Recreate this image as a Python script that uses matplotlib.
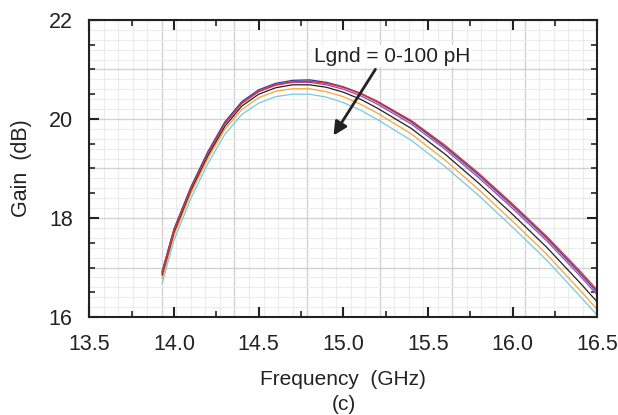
import matplotlib
matplotlib.use("Agg")
import matplotlib.pyplot as plt
from matplotlib.ticker import MultipleLocator

plt.rcParams['font.family'] = ['Liberation Sans', 'DejaVu Sans']

# frequency sweep (GHz) and gain (dB) for each ground inductance
freq = [13.93, 14.0, 14.1, 14.2, 14.3, 14.4, 14.5, 14.6, 14.7, 14.8, 14.9,
        15.0, 15.1, 15.2, 15.4, 15.6, 15.8, 16.0, 16.2, 16.4, 16.5]

gain_cyan = [16.68, 17.55, 18.40, 19.10, 19.69, 20.09, 20.32, 20.45, 20.50, 20.50, 20.44,
             20.33, 20.18, 19.99, 19.57, 19.04, 18.45, 17.81, 17.15, 16.41, 16.03]
gain_orange = [16.78, 17.65, 18.50, 19.20, 19.79, 20.19, 20.43, 20.56, 20.61, 20.61, 20.55,
               20.45, 20.30, 20.12, 19.70, 19.17, 18.57, 17.93, 17.27, 16.53, 16.15]
gain_black = [16.85, 17.71, 18.56, 19.26, 19.85, 20.26, 20.50, 20.63, 20.69, 20.69, 20.64,
              20.54, 20.40, 20.22, 19.81, 19.29, 18.70, 18.07, 17.41, 16.68, 16.30]
gain_purple = [16.89, 17.75, 18.60, 19.31, 19.90, 20.31, 20.55, 20.68, 20.74, 20.74, 20.69,
               20.60, 20.47, 20.30, 19.90, 19.39, 18.81, 18.19, 17.54, 16.82, 16.44]
gain_lavender = [16.91, 17.77, 18.62, 19.33, 19.92, 20.33, 20.57, 20.70, 20.76, 20.77, 20.72,
                 20.63, 20.50, 20.33, 19.93, 19.42, 18.84, 18.22, 17.57, 16.85, 16.47]
gain_blue = [16.92, 17.78, 18.63, 19.34, 19.94, 20.35, 20.59, 20.72, 20.78, 20.79, 20.74,
             20.65, 20.52, 20.35, 19.95, 19.44, 18.87, 18.25, 17.60, 16.88, 16.50]
gain_red = [16.90, 17.76, 18.60, 19.31, 19.91, 20.32, 20.56, 20.69, 20.75, 20.76, 20.72,
            20.64, 20.52, 20.36, 19.97, 19.47, 18.90, 18.28, 17.63, 16.92, 16.54]

curves = [
    (gain_cyan, '#78c8e2'),
    (gain_orange, '#f6a435'),
    (gain_black, '#222222'),
    (gain_purple, '#a8449e'),
    (gain_lavender, '#ad90d2'),
    (gain_blue, '#3342a2'),
    (gain_red, '#e42c2c'),
]

fig = plt.figure(figsize=(6.18, 4.15), dpi=100)
rect = [0.1445, 0.236, 0.8223, 0.716]

# background grid: 7 x 6 major cells, 5 minor divisions each
grid = fig.add_axes(rect, zorder=0)
grid.set_xlim(0, 7)
grid.set_ylim(16, 22)
grid.xaxis.set_major_locator(MultipleLocator(1))
grid.xaxis.set_minor_locator(MultipleLocator(0.2))
grid.yaxis.set_major_locator(MultipleLocator(1))
grid.yaxis.set_minor_locator(MultipleLocator(0.2))
grid.grid(which='major', color='#d2d2d2', lw=1.0)
grid.grid(which='minor', color='#ececec', lw=0.8)
grid.tick_params(which='both', length=0, labelbottom=False, labelleft=False)
for s in grid.spines.values():
    s.set_visible(False)

ax = fig.add_axes(rect, zorder=1)
ax.patch.set_visible(False)

for g, c in curves:
    ax.plot(freq, g, color=c, lw=0.9)

ax.set_xlim(13.5, 16.5)
ax.set_ylim(16, 22)
ax.xaxis.set_major_locator(MultipleLocator(0.5))
ax.xaxis.set_minor_locator(MultipleLocator(0.25))
ax.yaxis.set_major_locator(MultipleLocator(2))
ax.yaxis.set_minor_locator(MultipleLocator(0.5))
ax.xaxis.set_major_formatter(plt.FormatStrFormatter('%.1f'))
ax.tick_params(which='both', direction='in', top=True, right=True, color='#222222')
ax.tick_params(which='major', length=7, width=1.5, labelsize=15.5, pad=12, labelcolor='#222222')
ax.tick_params(which='minor', length=4.5, width=1.2)
ax.tick_params(axis='y', which='major', pad=12)
for s in ax.spines.values():
    s.set_linewidth(1.5)
    s.set_color('#222222')

ax.set_xlabel('Frequency  (GHz)', fontsize=15, color='#222222', labelpad=11)
ax.set_ylabel('Gain  (dB)', fontsize=15.5, color='#222222', labelpad=12)
fig.text(0.556, 0.013, '(c)', fontsize=15, color='#222222', ha='center')

ax.annotate('', xy=(14.933, 19.62), xytext=(15.198, 21.05),
            arrowprops=dict(arrowstyle='-|>', lw=2, color='#222222', mutation_scale=20))
ax.text(15.287, 21.27, 'Lgnd = 0-100 pH', fontsize=15, color='#222222',
        ha='center', va='center',
        bbox=dict(facecolor='white', edgecolor='none', pad=1))

fig.savefig('out.png', dpi=100)
